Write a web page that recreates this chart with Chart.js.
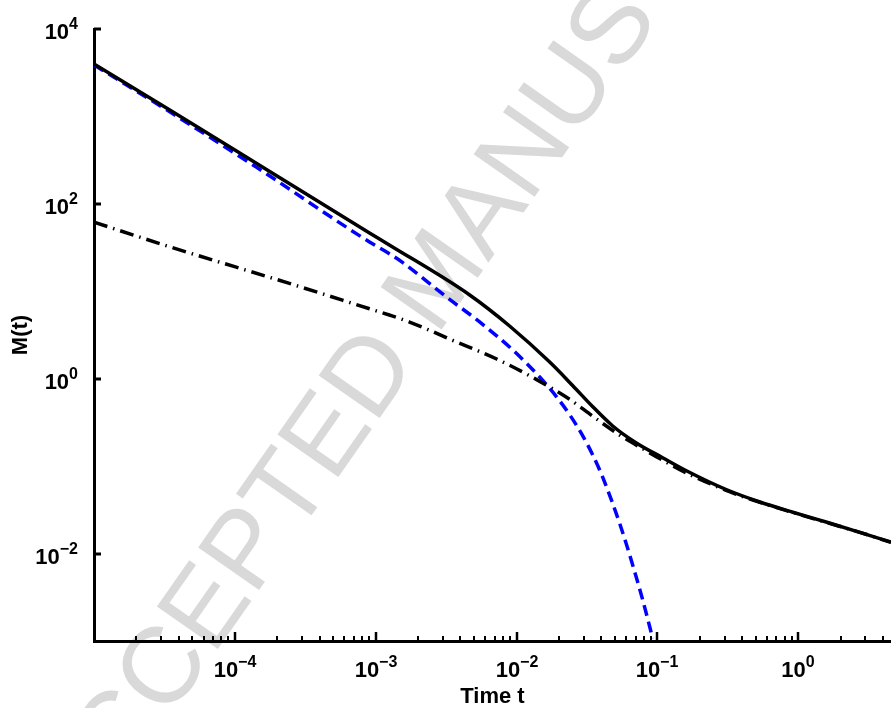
<!DOCTYPE html>
<html>
<head>
<meta charset="utf-8">
<script src="https://cdn.jsdelivr.net/npm/chart.js@4.4.1/dist/chart.umd.min.js"></script>
<style>
  html, body { margin: 0; padding: 0; background: #ffffff; }
  canvas { display: block; }
</style>
</head>
<body>
<canvas id="chart-mt" width="891" height="708"></canvas>
<script>
// total M(t) (solid black)
const timeTotal = [
  1.0e-5, 3.43e-5, 1.42e-4, 9.04e-4, 1.25e-3, 4.65e-3, 8.93e-3, 1.72e-2,
  2.51e-2, 3.48e-2, 4.82e-2, 7.14e-2, 0.109, 0.162, 0.311, 0.535, 0.916,
  1.6, 2.74, 4.56,
];
const mTotal = [
  3980, 1190, 292, 46.5, 33.9, 9.08, 4.01, 1.55,
  0.832, 0.478, 0.288, 0.183, 0.125, 0.0881, 0.0537, 0.0389, 0.0297,
  0.0228, 0.0175, 0.0135,
];

// fast component (blue dashed)
const timeFast = [
  1.0e-5, 3.43e-5, 1.42e-4, 9.04e-4, 1.25e-3, 1.55e-3, 3.18e-3, 5.47e-3,
  9.38e-3, 1.46e-2, 1.93e-2, 2.38e-2, 2.9e-2, 3.48e-2, 4.09e-2, 5.41e-2,
  6.68e-2, 7.87e-2, 9.27e-2,
];
const mFast = [
  3890, 1135, 263, 36.6, 26.9, 21.4, 8.61, 4.46,
  2.14, 1.045, 0.617, 0.389, 0.234, 0.134, 0.0748, 0.0219,
  0.00741, 0.00295, 0.00107,
];

// slow component (black dash-dot)
const timeSlow = [
  1.0e-5, 3.43e-5, 2.44e-4, 9.04e-4, 1.25e-3, 1.74e-3, 3.52e-3, 7.23e-3,
  1.39e-2, 2.38e-2, 3.48e-2, 5.41e-2, 7.87e-2, 0.109, 0.162, 0.311, 0.535,
  0.916, 1.6, 2.74, 4.56,
];
const mSlow = [
  61.7, 32.4, 12.3, 6.31, 5.35, 4.45, 2.75, 1.68,
  0.977, 0.582, 0.372, 0.226, 0.158, 0.117, 0.0832, 0.0525, 0.0385,
  0.0295, 0.0226, 0.0175, 0.0134,
];

// decade exponents that get a labelled tick
const xTickExponents = [-4, -3, -2, -1, 0];
const yTickExponents = [4, 2, 0, -2];

const xLabel = "Time t";
const yLabel = "M(t)";
const stampText = "ACCEPTED MANUSCRIPT";

const toPoints = (xs, ys) => xs.map((x, i) => ({ x: x, y: ys[i] }));

const baseFont = "bold 22px 'Liberation Sans', Arial, sans-serif";
const supFont = "bold 16px 'Liberation Sans', Arial, sans-serif";

function drawPower(ctx, exp, x, y, align) {
  const base = "10";
  const sup = exp < 0 ? "\u2212" + Math.abs(exp) : String(exp);
  ctx.font = baseFont;
  const wb = ctx.measureText(base).width;
  ctx.font = supFont;
  const ws = ctx.measureText(sup).width;
  const x0 = align === "center" ? x - (wb + ws) / 2 : x - (wb + ws);
  ctx.textAlign = "left";
  ctx.textBaseline = "alphabetic";
  ctx.font = baseFont;
  ctx.fillText(base, x0, y);
  ctx.font = supFont;
  ctx.fillText(sup, x0 + wb, y - 10);
}

// gray stamp behind everything
const stampPlugin = {
  id: "stamp",
  beforeDraw(chart) {
    const ctx = chart.ctx;
    ctx.save();
    ctx.translate(82, 843);
    ctx.rotate((-55 * Math.PI) / 180);
    ctx.fillStyle = "#d9d9d9";
    ctx.font = "108px 'Liberation Sans', Arial, sans-serif";
    ctx.textBaseline = "alphabetic";
    ctx.fillText(stampText, 0, 0);
    ctx.restore();
  },
};

// inward ticks, superscript tick labels and axis titles
const axisPlugin = {
  id: "axisDecor",
  afterDraw(chart) {
    const ctx = chart.ctx;
    const xs = chart.scales.x;
    const ys = chart.scales.y;
    const area = chart.chartArea;
    ctx.save();
    ctx.strokeStyle = "#000";
    ctx.fillStyle = "#000";

    // x minor ticks
    ctx.lineWidth = 2;
    for (let e = -5; e <= 0; e++) {
      for (let k = 2; k <= 9; k++) {
        const v = k * Math.pow(10, e);
        if (v <= xs.min || v >= xs.max) continue;
        const px = Math.round(xs.getPixelForValue(v));
        ctx.beginPath();
        ctx.moveTo(px, area.bottom);
        ctx.lineTo(px, area.bottom - 5);
        ctx.stroke();
      }
    }
    // x major ticks + labels
    ctx.lineWidth = 2.5;
    xTickExponents.forEach((e) => {
      const px = Math.round(xs.getPixelForValue(Math.pow(10, e)));
      ctx.beginPath();
      ctx.moveTo(px, area.bottom);
      ctx.lineTo(px, area.bottom - 9);
      ctx.stroke();
      drawPower(ctx, e, px, area.bottom + 36, "center");
    });
    // y major ticks + labels
    yTickExponents.forEach((e) => {
      const py = Math.round(ys.getPixelForValue(Math.pow(10, e)));
      ctx.lineWidth = 3;
      ctx.beginPath();
      ctx.moveTo(area.left, py);
      ctx.lineTo(area.left + 7, py);
      ctx.stroke();
      drawPower(ctx, e, area.left - 16, py + 10, "right");
    });

    // axis titles
    ctx.font = baseFont;
    ctx.textAlign = "center";
    ctx.textBaseline = "alphabetic";
    ctx.fillText(xLabel, (area.left + area.right) / 2, 703);
    ctx.translate(21, (area.top + area.bottom) / 2);
    ctx.rotate(-Math.PI / 2);
    ctx.textBaseline = "middle";
    ctx.fillText(yLabel, 0, 0);
    ctx.restore();
  },
};

const axisCommon = {
  type: "logarithmic",
  grid: { display: false },
  ticks: { display: false },
  border: { display: true, width: 3, color: "#000" },
};

new Chart(document.querySelector("#chart-mt").getContext("2d"), {
  type: "line",
  data: {
    datasets: [
      {
        data: toPoints(timeTotal, mTotal),
        borderColor: "#000000",
        borderWidth: 3.5,
      },
      {
        data: toPoints(timeSlow, mSlow),
        borderColor: "#000000",
        borderWidth: 3.5,
        borderDash: [14, 6, 1.5, 6],
      },
      {
        data: toPoints(timeFast, mFast),
        borderColor: "#0000ff",
        borderWidth: 3.5,
        borderDash: [11, 6],
      },
    ],
  },
  options: {
    responsive: false,
    animation: false,
    devicePixelRatio: 1,
    layout: { padding: { left: 94, top: 29, right: 0, bottom: 67 } },
    elements: {
      point: { radius: 0 },
      line: { fill: false, cubicInterpolationMode: "monotone" },
    },
    scales: {
      x: {
        ...axisCommon,
        position: "bottom",
        min: 1e-5,
        max: 4.56,
        afterFit: (s) => { s.height = 0; },
      },
      y: {
        ...axisCommon,
        position: "left",
        min: 1e-3,
        max: 1e4,
        afterFit: (s) => { s.width = 0; },
      },
    },
    plugins: {
      legend: { display: false },
      tooltip: { enabled: false },
    },
    events: [],
  },
  plugins: [stampPlugin, axisPlugin],
});
</script>
</body>
</html>
